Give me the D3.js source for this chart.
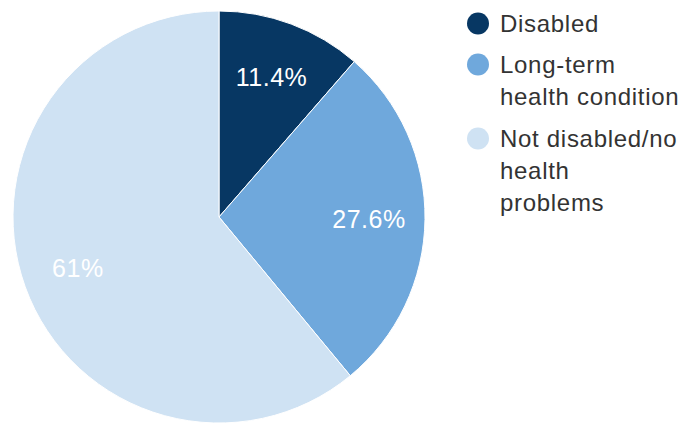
<!DOCTYPE html>
<html>
<head>
<meta charset="utf-8">
<script src="https://cdn.jsdelivr.net/npm/d3@7"></script>
<style>
  body { margin: 0; background: #fff; }
  svg { font-family: "Liberation Sans", Arial, sans-serif; }
</style>
</head>
<body>
<div class="chart"></div>
<script>
// data
const categories = ["Disabled", "Long-term health condition", "Not disabled/no health problems"];
const values = [11.4, 27.6, 61];
const valueLabels = ["11.4%", "27.6%", "61%"];
// legend text split into lines as in the picture
const legendLines = [["Disabled"], ["Long-term", "health condition"], ["Not disabled/no", "health", "problems"]];
const colors = ["#073763", "#6fa8dc", "#cfe2f3"];

const w = 684;   //width of svg
const h = 424;   //height of svg
const cx = 219, cy = 217, r = 206;

const svg = d3.select(".chart")
  .append("svg")
  .attr("width", w)
  .attr("height", h);

const color = d3.scaleOrdinal().domain(categories).range(colors);

//pie layout, clockwise from 12 o'clock, keep data order
const pie = d3.pie().sort(null).value(d => d.value);
const arcs = pie(categories.map((c, i) => ({ name: c, value: values[i], label: valueLabels[i] })));

const arc = d3.arc().innerRadius(0).outerRadius(r);
const labelArc = d3.arc().innerRadius(150).outerRadius(150);

const g = svg.append("g").attr("transform", "translate(" + cx + "," + cy + ")");

g.selectAll("path")
  .data(arcs)
  .enter()
  .append("path")
  .attr("d", arc)
  .attr("fill", d => color(d.data.name))
  .attr("stroke", "#fff")
  .attr("stroke-width", 1);

//percentage labels inside slices
g.selectAll("text")
  .data(arcs)
  .enter()
  .append("text")
  .attr("transform", d => "translate(" + labelArc.centroid(d) + ")")
  .attr("text-anchor", "middle")
  .attr("dy", "0.36em")
  .attr("fill", "#fff")
  .style("font-size", "25px")
  .style("letter-spacing", "0.5px")
  .text(d => d.data.label);

//legend
const legendY = [32, 73, 147];   //baseline of first line of each entry
const lineH = 32;
const legend = svg.append("g");

categories.forEach((c, i) => {
  legend.append("circle")
    .attr("cx", 478)
    .attr("cy", legendY[i] - 8.5)
    .attr("r", 11)
    .attr("fill", color(c));
  const t = legend.append("text")
    .attr("x", 500)
    .attr("y", legendY[i])
    .attr("fill", "#333")
    .style("font-size", "24px")
    .style("letter-spacing", "0.7px");
  legendLines[i].forEach((line, j) => {
    t.append("tspan")
      .attr("x", 500)
      .attr("y", legendY[i] + j * lineH)
      .text(line);
  });
});
</script>
</body>
</html>
